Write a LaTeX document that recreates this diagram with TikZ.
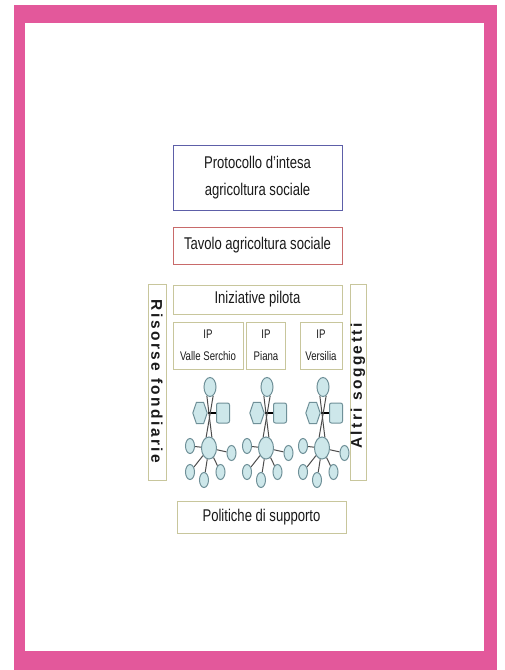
\documentclass[tikz,border=0pt]{standalone}
\usepackage{fontspec}
\setmainfont{Liberation Sans}[FakeStretch=0.77]
\newfontfamily\spacedbold{Liberation Sans}[LetterSpace=16]
\usetikzlibrary{shapes.geometric}
\definecolor{pinkf}{HTML}{E3589B}
\definecolor{boxc}{HTML}{C8C69C}
\definecolor{blueb}{HTML}{5D5FA8}
\definecolor{redb}{HTML}{C86A6A}
\definecolor{nodef}{HTML}{CDE7EA}
\definecolor{nodeb}{HTML}{6F9098}
\definecolor{txt}{HTML}{1A1A1A}
\pgfdeclarelayer{frame}
\pgfdeclarelayer{edges}
\pgfsetlayers{frame,edges,main}
\tikzset{
  box/.style={draw=boxc, line width=1pt, inner sep=0pt, text=txt, align=center,
    font=\fontsize{17}{27}\selectfont},
  ipbox/.style={box, font=\fontsize{12.5}{22}\selectfont, minimum height=47pt},
  vbox/.style={draw=boxc, line width=1pt, inner sep=0pt, minimum height=196pt},
  vtext/.style={text=txt, inner sep=0pt, font=\spacedbold\fontsize{15.5}{17}\bfseries},
  ell/.style={ellipse, draw=nodeb, fill=nodef, line width=1pt, inner sep=0pt},
  sat/.style={ell, minimum width=9pt, minimum height=15pt},
  hexa/.style={regular polygon, regular polygon sides=6, draw=nodeb, fill=nodef,
    line width=1pt, inner sep=0pt, minimum size=18pt, xscale=0.8, yscale=1.35},
  sq/.style={rectangle, rounded corners=2pt, draw=nodeb, fill=nodef, line width=1pt,
    inner sep=0pt, minimum width=13pt, minimum height=20pt},
  lk/.style={draw=gray!60!black, line width=1pt},
  lkb/.style={draw=black, line width=1.3pt}
}
\newcommand{\drawnet}[2]{%
  \begin{scope}[xshift=#2pt]
    \node[ell, minimum width=12pt, minimum height=19pt] (#1t) at (210,387) {};
    \node[hexa] (#1h) at (200,413) {};
    \node[sq] (#1s) at (223,413) {};
    \node[ell, minimum width=15pt, minimum height=22pt] (#1c) at (209,448) {};
    \node[sat] (#1a) at (190,446) {};
    \node[sat] (#1b) at (231.5,453) {};
    \node[sat] (#1d) at (190,472) {};
    \node[sat] (#1e) at (204,480) {};
    \node[sat] (#1f) at (220.5,472) {};
    \begin{pgfonlayer}{edges}
      \draw[lkb] (#1h) -- (#1s);
      \draw[lk] (#1t.250) -- (#1c.75);
      \draw[lk] (#1t.290) -- (#1c.105);
      \draw[lk] (#1c) -- (#1a);
      \draw[lk] (#1c) -- (#1b);
      \draw[lk] (#1c) -- (#1d);
      \draw[lk] (#1c) -- (#1e);
      \draw[lk] (#1c) -- (#1f);
    \end{pgfonlayer}
  \end{scope}}
\begin{document}
\begin{tikzpicture}[x=1pt,y=-1pt]
\useasboundingbox (0,0) rectangle (504,670);
\begin{pgfonlayer}{frame}
  \fill[white] (0,0) rectangle (504,670);
  \fill[pinkf] (14,5) rectangle (497,670);
  \fill[white] (25,23) rectangle (484,651);
\end{pgfonlayer}

\node[box, draw=blueb, minimum width=169pt, minimum height=65pt] (proto) at (257.5,177.5)
  {Protocollo d'intesa\\agricoltura sociale};
\node[box, draw=redb, minimum width=169pt, minimum height=37pt] (tavolo) at (257.5,245.5)
  {Tavolo agricoltura sociale};
\node[box, minimum width=169pt, minimum height=29pt] (inizi) at (257.5,299.5)
  {Iniziative pilota};
\node[ipbox, minimum width=70pt] (ip1) at (208,345.5) {IP\\Valle Serchio};
\node[ipbox, minimum width=39pt] (ip2) at (266,345.5) {IP\\Piana};
\node[ipbox, minimum width=42pt] (ip3) at (321,345.5) {IP\\Versilia};

\node[vbox, minimum width=18pt] (risorse) at (157,382) {};
\node[vtext, rotate=-90] (risorset) at (157,381.5) {Risorse fondiarie};
\node[vbox, minimum width=16pt] (altri) at (358,382) {};
\node[vtext, rotate=90] (altrit) at (358,386) {Altri soggetti};

\drawnet{na}{0}
\drawnet{nb}{57}
\drawnet{nc}{113}

\node[box, minimum width=169pt, minimum height=32pt] (politiche) at (261.5,517)
  {Politiche di supporto};
\end{tikzpicture}
\end{document}
